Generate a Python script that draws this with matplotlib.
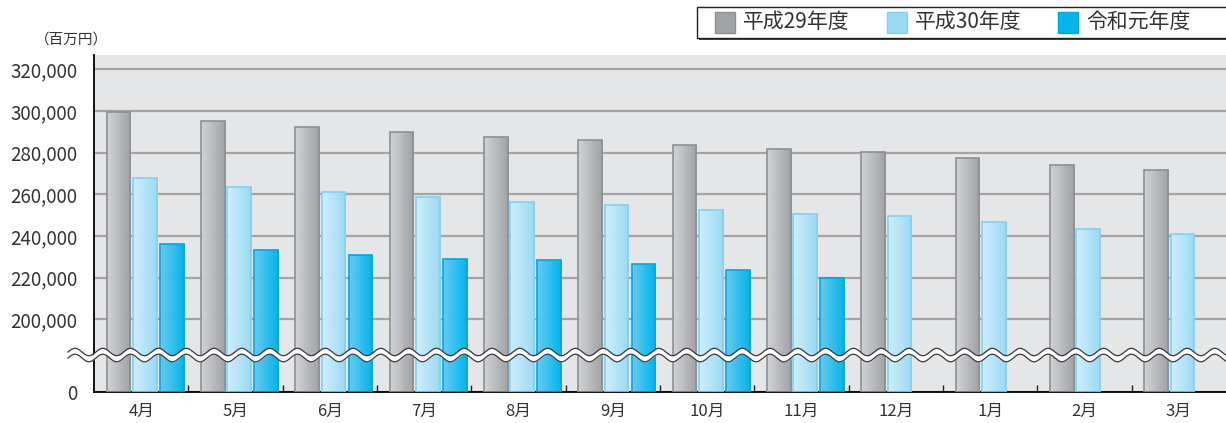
import numpy as np
import matplotlib
matplotlib.use('Agg')
import matplotlib.pyplot as plt
from matplotlib.patches import Rectangle
from matplotlib.colors import LinearSegmentedColormap

plt.rcParams['font.family'] = ['Noto Sans CJK JP', 'DejaVu Sans']

# data (百万円)
months = ['4月', '5月', '6月', '7月', '8月', '9月', '10月', '11月', '12月', '1月', '2月', '3月']
h29 = [299300, 295400, 292300, 290000, 287300, 286200, 283900, 281900, 280300, 277400, 274100, 271500]
h30 = [267700, 263700, 261300, 258900, 256500, 254600, 252600, 250700, 249600, 246500, 243200, 241100]
r1 = [236300, 233000, 231000, 229100, 228200, 226300, 223400, 220000]
series_names = ['平成29年度', '平成30年度', '令和元年度']
yticks = [0, 200000, 220000, 240000, 260000, 280000, 300000, 320000]

# styles: (left colour, right colour, edge colour, offset)
styles = [('#cfd0d3', '#a2a3a6', '#8e8f91', -0.24),
          ('#cbedfb', '#9cdaf4', '#7fd2f2', 0.04),
          ('#5fc9f0', '#00b5ed', '#00a5df', 0.325)]
bar_w = 0.25

# broken axis: 0..200,000 squeezed under the 200,000 line
BRK = 200000.0
Z0 = 165000.0
K = (BRK - Z0) / BRK

def fwd(v):
    v = np.asarray(v, dtype=float)
    return np.where(v < BRK, Z0 + v * K, v)

def inv(p):
    p = np.asarray(p, dtype=float)
    return np.where(p < BRK, (p - Z0) / K, p)

W, H = 1226, 423
fig = plt.figure(figsize=(W / 100, H / 100), dpi=100)
ax = fig.add_axes([94 / W, 1 - 392 / H, 1 - 94 / W, (392 - 55) / H])
ax.set_facecolor('#e5e6e8')
ax.set_yscale('function', functions=(fwd, inv))

x = np.arange(len(months))
data = [h29, h30, r1]
nstrip = 12
for vals, (c1, c2, ec, off) in zip(data, styles):
    xs = x[:len(vals)] + off
    cmap = LinearSegmentedColormap.from_list('g', [c1, c2])
    sw = bar_w / nstrip
    for j in range(nstrip):
        col = cmap(j / (nstrip - 1))
        ax.bar(xs - bar_w / 2 + (j + 0.5) * sw, vals, width=sw, color=col,
               edgecolor=col, linewidth=0.4, zorder=2)
    ax.bar(xs, vals, width=bar_w, fill=False, edgecolor=ec, linewidth=1.2, zorder=3)

ax.set_xlim(-0.5, len(months) - 0.5)
ax.set_ylim(0, 326900)
ax.set_yticks(yticks)
ax.set_yticklabels([f'{v:,}' for v in yticks])
ax.yaxis.set_minor_locator(matplotlib.ticker.NullLocator())
ax.tick_params(axis='y', length=0, pad=12, labelsize=13.5, labelcolor='#333333')
ax.set_xticks(x)
ax.set_xticklabels(months)
ax.set_xticks(np.arange(0.5, len(months) - 0.5, 1), minor=True)
ax.tick_params(axis='x', which='major', length=0, pad=8, labelsize=12, labelcolor='#333333')
ax.tick_params(axis='x', which='minor', direction='in', length=5, width=1, color='#222222')
ax.yaxis.grid(True, color='#a4a4a4', linewidth=1.6)
ax.set_axisbelow(True)
for s in ['top', 'right']:
    ax.spines[s].set_visible(False)
ax.spines['left'].set_linewidth(1.3)
ax.spines['bottom'].set_linewidth(1.3)

# wave break mark (figure pixels)
wx = np.linspace(68, W + 5, 1500)
ph = np.cos(2 * np.pi * (wx - 75) / 27.8)
up = 352 - 3.7 * ph
lo = 358 - 3.8 * ph
ft = fig.transFigure
ax.fill_between(wx / W, 1 - up / H, 1 - lo / H, color='white', transform=ft,
                zorder=10, clip_on=False, linewidth=0)
ax.plot(wx / W, 1 - up / H, color='#3a3a3a', lw=0.9, transform=ft, zorder=11, clip_on=False)
ax.plot(wx / W, 1 - lo / H, color='#3a3a3a', lw=0.9, transform=ft, zorder=11, clip_on=False)

# unit label
fig.text(35 / W, 1 - 40 / H, '（百万円）', fontsize=10.5, color='#333333', ha='left', va='center')

# legend box
fig.patches.append(Rectangle((699 / W, 1 - 40 / H), (W - 697) / W, 31 / H, transform=ft,
                             facecolor='#444444', edgecolor='none', zorder=5))
fig.patches.append(Rectangle((697 / W, 1 - 38 / H), (W - 695) / W, 31 / H, transform=ft,
                             facecolor='white', edgecolor='#222222', linewidth=1, zorder=6))
leg_patch_x = [715, 887, 1058]
for (c1, c2, ec, off), name, px in zip(styles, series_names, leg_patch_x):
    fig.patches.append(Rectangle((px / W, 1 - 33 / H), 20 / W, 21 / H, transform=ft,
                                 facecolor=c2, edgecolor=ec, linewidth=1, zorder=7))
    fig.text((px + 28) / W, 1 - 22.5 / H, name, fontsize=15, color='#333333',
             ha='left', va='center', zorder=8)

fig.savefig('out.png', dpi=100)
